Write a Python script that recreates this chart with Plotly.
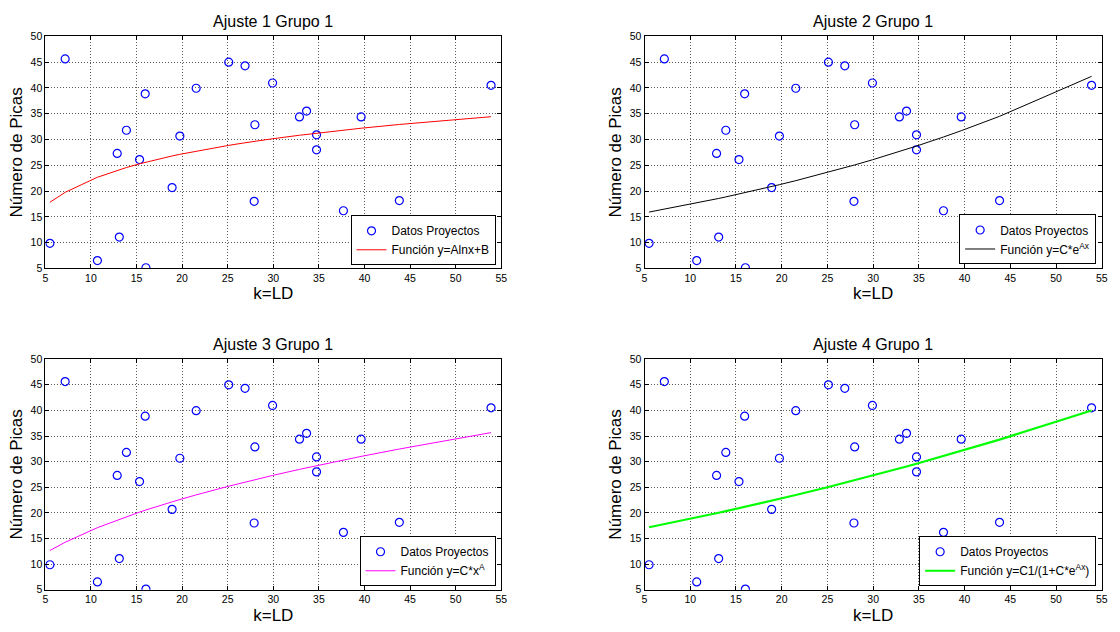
import plotly.graph_objects as go

# ---- data ----
x_data = [5.50, 7.17, 10.71, 12.88, 13.11, 13.89, 15.33, 15.95, 16.03, 18.90, 19.75, 21.54,
          25.11, 26.90, 27.90, 27.98, 29.92, 32.87, 33.65, 34.74, 34.74, 37.69, 39.63, 43.82, 53.88]
y_data = [9.87, 45.63, 6.52, 27.31, 11.07, 31.80, 26.11, 38.87, 5.13, 20.68, 30.66, 39.95,
          45.00, 44.30, 18.02, 32.87, 40.96, 34.39, 35.52, 30.91, 28.00, 16.19, 34.39, 18.15, 40.51]

fit_log = [17.83, 19.76, 22.68, 24.02, 24.15, 24.57, 25.29, 25.57, 25.61, 26.81, 27.13, 27.76,
           28.87, 29.37, 29.64, 29.66, 30.15, 30.83, 31.00, 31.23, 31.23, 31.82, 32.19, 32.92, 34.43]
fit_exp = [15.93, 16.48, 17.70, 18.49, 18.57, 18.87, 19.43, 19.67, 19.70, 20.87, 21.24, 22.02,
           23.66, 24.53, 25.03, 25.07, 26.07, 27.67, 28.10, 28.73, 28.73, 30.49, 31.71, 34.50, 42.25]
fit_pow = [12.65, 14.26, 17.11, 18.61, 18.76, 19.26, 20.15, 20.51, 20.56, 22.15, 22.60, 23.51,
           25.20, 26.00, 26.44, 26.47, 27.30, 28.49, 28.79, 29.21, 29.21, 30.31, 31.02, 32.46, 35.66]
fit_logis = [17.20, 17.79, 19.10, 19.93, 20.02, 20.33, 20.90, 21.15, 21.18, 22.36, 22.71, 23.48,
             25.05, 25.86, 26.32, 26.35, 27.26, 28.68, 29.06, 29.59, 29.59, 31.08, 32.08, 34.30, 39.99]

titles = ["Ajuste 1 Grupo 1", "Ajuste 2 Grupo 1", "Ajuste 3 Grupo 1", "Ajuste 4 Grupo 1"]
fit_names = ["Función y=Alnx+B", "Función y=C*e<sup>Ax</sup>",
             "Función y=C*x<sup>A</sup>", "Función y=C1/(1+C*e<sup>Ax</sup>)"]
fits = [fit_log, fit_exp, fit_pow, fit_logis]
fit_colors = ["#ff0000", "#000000", "#ff00ff", "#00ff00"]
fit_widths = [1, 1, 1, 2.2]
x_ticks = [5, 10, 15, 20, 25, 30, 35, 40, 45, 50, 55]
y_ticks = [5, 10, 15, 20, 25, 30, 35, 40, 45, 50]

W, H = 1120, 632
FONT = "Liberation Sans, Arial, sans-serif"

# panel pixel boxes (left, right, top, bottom)
boxes = [(42.7, 502.3, 31, 267.5), (646.7, 1107.7, 31, 267.5),
         (42.7, 502.3, 360, 595), (646.7, 1107.7, 360, 595)]
legend_pos = [(496.5, 264.3), (1102, 263.5), (496.5, 591.5), (1102, 591.5)]
title_y = [16, 16, 345, 345]

fig = go.Figure()
layout = dict(width=W, height=H, margin=dict(l=0, r=0, t=0, b=0),
              paper_bgcolor="white", plot_bgcolor="white",
              font=dict(family=FONT, color="black"), annotations=[])

for i in range(4):
    n = "" if i == 0 else str(i + 1)
    lg = "legend" if i == 0 else f"legend{i+1}"
    fig.add_trace(go.Scatter(x=x_data, y=y_data, mode="markers", name="Datos Proyectos",
                             marker=dict(symbol="circle-open", size=8, color="#0000ff",
                                         line=dict(width=1.2, color="#0000ff")),
                             xaxis="x" + n, yaxis="y" + n, legend=lg))
    fig.add_trace(go.Scatter(x=x_data, y=fits[i], mode="lines", name=fit_names[i],
                             line=dict(color=fit_colors[i], width=fit_widths[i]),
                             xaxis="x" + n, yaxis="y" + n, legend=lg))
    l, r, t, b = boxes[i]
    common = dict(showline=True, linecolor="black", linewidth=1, mirror="ticks",
                  ticks="inside", ticklen=4, tickcolor="black",
                  showgrid=True, gridcolor="#5a5a5a", griddash="1px,2px", gridwidth=1,
                  zeroline=False, tickfont=dict(size=10.5, color="black", family=FONT))
    layout["xaxis" + n] = dict(common, domain=[l / W, r / W], range=[5, 55], tickvals=x_ticks,
                               anchor="y" + n,
                               title=dict(text="k=LD", font=dict(size=17), standoff=4))
    layout["yaxis" + n] = dict(common, domain=[1 - b / H, 1 - t / H], range=[5, 50], tickvals=y_ticks,
                               anchor="x" + n,
                               title=dict(text="Número de Picas", font=dict(size=17), standoff=3))
    lx, ly = legend_pos[i]
    layout[lg] = dict(x=lx / W, y=1 - ly / H, xanchor="right", yanchor="bottom",
                      bgcolor="white", bordercolor="black", borderwidth=1,
                      font=dict(size=12, family=FONT, color="black"), tracegroupgap=0)
    layout["annotations"].append(dict(text=titles[i], x=(l + r) / 2 / W, y=1 - title_y[i] / H,
                                      xref="paper", yref="paper", showarrow=False,
                                      xanchor="center", yanchor="middle",
                                      font=dict(size=16, family=FONT, color="black")))

fig.update_layout(**layout)
fig.write_html("out.html")
